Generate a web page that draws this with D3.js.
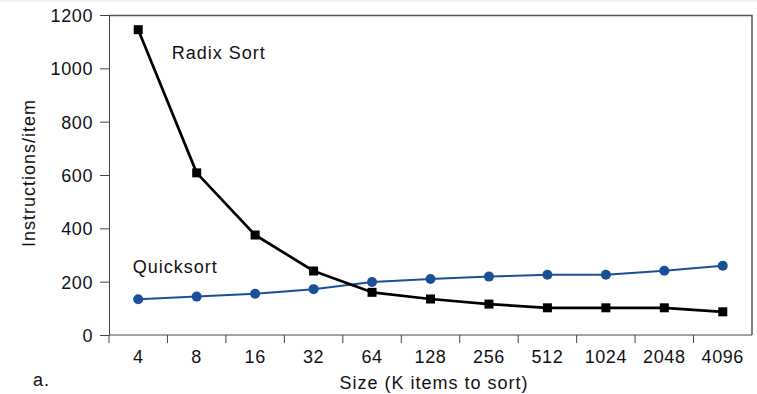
<!DOCTYPE html>
<html>
<head>
<meta charset="utf-8">
<script src="https://cdn.jsdelivr.net/npm/d3@7"></script>
<style>
  body { margin: 0; background: #fff; }
  svg { display: block; font-family: "Liberation Sans", Arial, sans-serif; }
  .y-axis text, .x-axis text { font-size: 18px; fill: #111; letter-spacing: 0.6px; }
  .label { font-size: 18px; fill: #111; letter-spacing: 1px; }
  .domain, .tick line { stroke: #444; }
</style>
</head>
<body>
<svg id="chart" width="757" height="394"></svg>
<script>
const sizes = ['4', '8', '16', '32', '64', '128', '256', '512', '1024', '2048', '4096'];
const radixSort = [1145, 608, 375, 240, 160, 135, 116, 102, 102, 102, 87];
const quicksort = [134, 144, 155, 172, 199, 210, 219, 226, 226, 241, 260];
const yTicks = [0, 200, 400, 600, 800, 1000, 1200];

const radixColor = '#000000';
const quickColor = '#1b4f98';

const svg = d3.select('#chart');

const margin = { top: 15, right: 5, bottom: 59, left: 109 };
const width = 757 - margin.left - margin.right;
const height = 394 - margin.top - margin.bottom;

// thin gray strip along the top of the page
svg.append('rect').attr('x', 0).attr('y', 0).attr('width', 757).attr('height', 2).attr('fill', '#f0f0f0');

const root = svg.append('g').attr('transform', `translate(${margin.left},${margin.top})`);

const x = d3.scaleBand().domain(sizes).range([0, width]).padding(0);
const y = d3.scaleLinear().domain([0, 1200]).range([height, 0]);
const cx = (d) => x(d) + x.bandwidth() / 2;

//
// Frame (top + right)
//
root.append('path')
  .attr('d', `M0,0.5H${width}V${height}`)
  .attr('fill', 'none')
  .attr('stroke', '#555')
  .attr('stroke-width', 1.5);

//
// Y axis
//
root.append('g')
  .attr('class', 'y-axis')
  .call(d3.axisLeft(y).tickValues(yTicks).tickFormat(d3.format('d')).tickSize(9).tickPadding(7).tickSizeOuter(0))
  .call((g) => g.selectAll('text').attr('dy', '0.36em'));

//
// X axis, ticks on the band boundaries
//
const xAxis = root.append('g')
  .attr('class', 'x-axis')
  .attr('transform', `translate(0,${height})`);

xAxis.append('line')
  .attr('x1', 0).attr('x2', width)
  .attr('stroke', '#444');

xAxis.selectAll('line.b')
  .data(sizes)
  .join('line')
  .attr('class', 'b')
  .attr('x1', (d) => x(d)).attr('x2', (d) => x(d))
  .attr('y1', 0).attr('y2', 8)
  .attr('stroke', '#444');

xAxis.selectAll('text')
  .data(sizes)
  .join('text')
  .attr('x', (d) => cx(d))
  .attr('y', 28)
  .attr('text-anchor', 'middle')
  .text((d) => d);

//
// Axis titles
//
svg.append('text')
  .attr('class', 'label')
  .attr('transform', 'translate(35,173) rotate(-90)')
  .attr('text-anchor', 'middle')
  .text('Instructions/item');

svg.append('text')
  .attr('class', 'label')
  .attr('x', 434).attr('y', 389)
  .attr('text-anchor', 'middle')
  .text('Size (K items to sort)');

svg.append('text')
  .attr('class', 'label')
  .attr('x', 33).attr('y', 386)
  .text('a.');

//
// Lines
//
const line = d3.line()
  .curve(d3.curveLinear)
  .x((d, i) => cx(sizes[i]))
  .y((d) => y(d));

root.append('path')
  .datum(quicksort)
  .attr('fill', 'none')
  .attr('stroke', quickColor)
  .attr('stroke-width', 2)
  .attr('d', line);

root.append('path')
  .datum(radixSort)
  .attr('fill', 'none')
  .attr('stroke', radixColor)
  .attr('stroke-width', 2.7)
  .attr('stroke-linejoin', 'round')
  .attr('d', line);

root.selectAll('circle.q')
  .data(quicksort)
  .join('circle')
  .attr('class', 'q')
  .attr('cx', (d, i) => cx(sizes[i]))
  .attr('cy', (d) => y(d))
  .attr('r', 5)
  .attr('fill', quickColor);

root.selectAll('rect.r')
  .data(radixSort)
  .join('rect')
  .attr('class', 'r')
  .attr('x', (d, i) => cx(sizes[i]) - 4.5)
  .attr('y', (d) => y(d) - 4.5)
  .attr('width', 9)
  .attr('height', 9)
  .attr('fill', radixColor);

//
// Series labels
//
root.append('text')
  .attr('class', 'label')
  .attr('x', cx('8') - 25).attr('y', y(1035))
  .text('Radix Sort');

root.append('text')
  .attr('class', 'label')
  .attr('x', cx('4') - 5.5).attr('y', y(234))
  .text('Quicksort');
</script>
</body>
</html>
